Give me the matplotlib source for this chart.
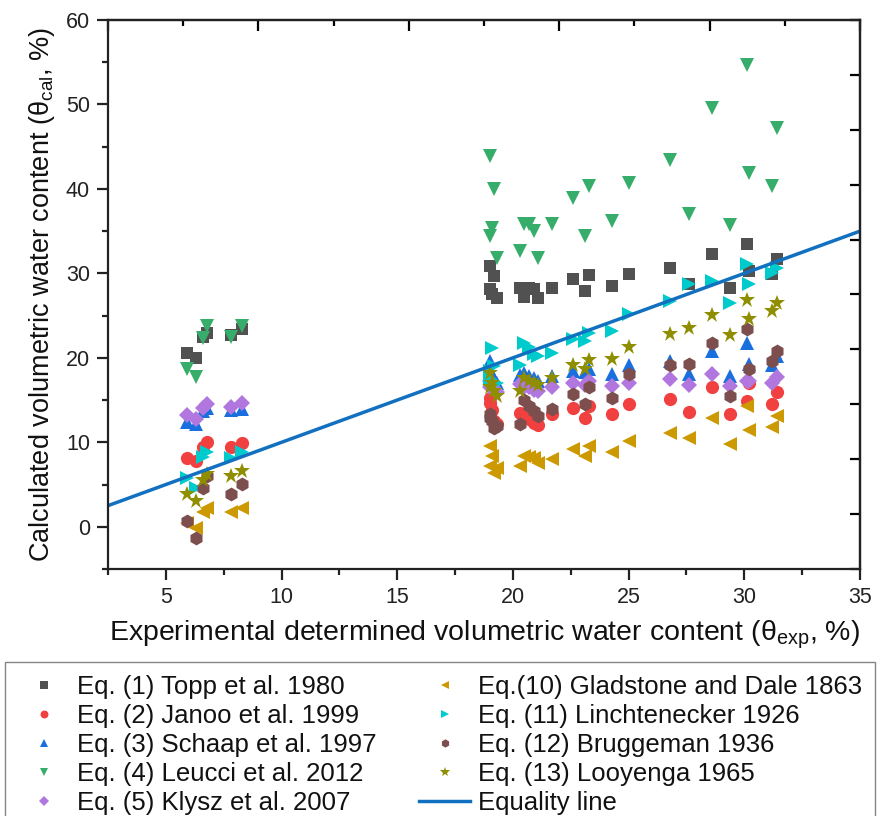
import matplotlib
matplotlib.use("Agg")
import matplotlib.pyplot as plt
import numpy as np

plt.rcParams['font.family'] = ['Liberation Sans', 'DejaVu Sans']
plt.rcParams['mathtext.default'] = 'regular'

# Experimental volumetric water content (%) for each sample
x_exp = [5.9, 6.3, 6.6, 6.8, 7.8, 8.3,
         19.0, 19.0, 19.1, 19.2, 19.3, 20.3, 20.5, 20.7, 20.9, 21.1, 21.7, 22.6, 23.1, 23.3, 24.3, 25.0,
         26.8, 27.6, 28.6, 29.4, 30.1, 30.2, 31.2, 31.4]

topp = [20.6, 20.0, 22.5, 23.0, 22.7, 23.4,
        30.9, 28.2, 27.6, 29.7, 27.1, 28.3, 27.2, 28.3, 28.2, 27.1, 28.3, 29.3, 27.9, 29.8, 28.5, 29.9,
        30.6, 28.7, 32.3, 28.3, 33.5, 30.3, 29.9, 31.7]
janoo = [8.2, 7.8, 9.5, 10.0, 9.5, 9.9,
         15.3, 14.6, 13.8, 12.5, 12.2, 13.5, 13.2, 12.8, 12.3, 12.0, 13.4, 14.1, 12.9, 14.3, 13.4, 14.5,
         15.1, 13.6, 16.6, 13.4, 14.9, 17.0, 14.5, 16.0]
schaap = [12.4, 12.2, 13.7, 14.1, 13.8, 14.0,
          19.6, 18.6, 18.0, 17.5, 17.0, 18.0, 18.2, 17.9, 17.6, 17.3, 17.9, 18.5, 18.3, 18.7, 18.1, 19.1,
          19.6, 18.1, 20.8, 17.9, 21.8, 19.3, 19.1, 20.2]
leucci = [18.7, 17.7, 22.3, 23.8, 22.5, 23.8,
          43.9, 34.4, 35.4, 40.0, 31.8, 32.7, 35.9, 35.8, 35.0, 31.8, 35.9, 38.9, 34.4, 40.4, 36.2, 40.7,
          43.4, 37.0, 49.6, 35.7, 54.7, 41.9, 40.4, 47.2]
klysz = [13.2, 12.8, 14.1, 14.5, 14.2, 14.6,
         17.3, 16.6, 16.8, 16.3, 15.9, 16.9, 16.6, 16.5, 16.2, 16.1, 16.5, 17.0, 16.8, 17.3, 16.7, 17.0,
         17.5, 16.8, 18.1, 16.7, 17.3, 17.3, 17.0, 17.7]
gladstone = [0.4, -0.1, 1.7, 2.2, 1.8, 2.2,
             9.6, 7.2, 8.4, 6.4, 7.0, 7.2, 8.4, 8.3, 8.2, 7.6, 8.0, 9.2, 8.4, 9.6, 8.8, 10.2,
             11.1, 10.5, 12.9, 9.8, 14.3, 11.5, 11.8, 13.1]
linch = [5.8, 4.6, 8.3, 8.8, 8.2, 8.8,
         18.5, 17.5, 21.2, 19.0, 17.0, 19.1, 21.8, 21.3, 20.5, 20.2, 20.6, 22.2, 22.0, 23.0, 23.2, 25.2,
         26.7, 28.7, 29.1, 26.5, 31.1, 28.8, 30.1, 30.6]
brugg = [0.7, -1.3, 4.6, 6.0, 3.9, 5.1,
         13.4, 12.9, 12.5, 11.7, 11.9, 12.2, 15.0, 14.3, 13.7, 13.1, 14.0, 15.7, 14.5, 16.5, 15.3, 18.1,
         19.1, 19.3, 21.7, 15.5, 23.4, 18.7, 19.6, 20.8]
looy = [3.9, 3.1, 5.5, 6.2, 6.0, 6.6,
        18.2, 16.5, 17.0, 16.1, 15.5, 16.1, 17.6, 17.3, 17.0, 16.8, 17.6, 19.1, 18.7, 19.8, 19.9, 21.3,
        22.8, 23.5, 25.1, 22.7, 26.9, 24.6, 25.6, 26.5]

equality_x = [2.5, 35.0]
equality_y = [2.5, 35.0]

x_ticks = [5, 10, 15, 20, 25, 30, 35]
y_ticks = [0, 10, 20, 30, 40, 50, 60]

series = [
    ("Eq. (1) Topp et al. 1980", topp, 's', '#515151', 9),
    ("Eq. (2) Janoo et al. 1999", janoo, 'o', '#F14040', 9.5),
    ("Eq. (3) Schaap et al. 1997", schaap, '^', '#1A6FDF', 10),
    ("Eq. (4) Leucci et al. 2012", leucci, 'v', '#37AD6B', 10),
    ("Eq. (5) Klysz et al. 2007", klysz, 'D', '#B177DE', 8),
    ("Eq.(10) Gladstone and Dale 1863", gladstone, '<', '#CC9900', 10),
    ("Eq. (11) Linchtenecker 1926", linch, '>', '#00CBCC', 10),
    ("Eq. (12) Bruggeman 1936", brugg, 'h', '#7D4E4E', 10),
    ("Eq. (13) Looyenga 1965", looy, '*', '#8E8E00', 12),
]

fig = plt.figure(figsize=(8.78, 8.16), dpi=100)
ax = fig.add_axes([0.123, 0.3027, 0.8565, 0.6728])

handles = []
for label, ys, mk, col, ms in series:
    h, = ax.plot(x_exp, ys, linestyle='none', marker=mk, color=col,
                 markersize=ms, markeredgewidth=0, label=label)
    handles.append(h)
hl, = ax.plot(equality_x, equality_y, color='#1270C0', linewidth=2.5, label="Equality line")
handles.append(hl)

xlim = (2.5, 35)
ylim = (-5, 60)
ax.set_xlim(*xlim)
ax.set_ylim(*ylim)
ax.set_xticks(x_ticks)
ax.set_xticks(np.arange(2.5, 35.1, 2.5), minor=True)
ax.set_yticks(y_ticks)
ax.set_yticks(np.arange(-5, 60.1, 5), minor=True)
for s in ax.spines.values():
    s.set_linewidth(1.6)
    s.set_color('#222222')
ax.tick_params(which='major', direction='out', length=8, width=1.6, pad=5,
               labelsize=15.5, colors='#222222')
ax.tick_params(which='minor', direction='out', length=4, width=1.6, colors='#222222')

# top and right axes (separate layer with its own evenly spaced ticks)
top = ax.secondary_xaxis('top')
tpos = np.linspace(xlim[0], xlim[1], 11)
top.set_xticks(tpos[::2])
top.set_xticks(tpos[1::2], minor=True)
top.tick_params(which='major', direction='in', length=8, width=1.6, labeltop=False)
top.tick_params(which='minor', direction='in', length=4, width=1.6)
top.set_xticklabels([])
right = ax.secondary_yaxis('right')
rpos = np.linspace(ylim[0], ylim[1], 11)
right.set_yticks(rpos)
right.tick_params(which='major', direction='in', length=7, width=1.6, labelright=False)
right.set_yticklabels([])
for sa in (top, right):
    for s in sa.spines.values():
        s.set_linewidth(1.6)
        s.set_color('#222222')

ax.set_xlabel("Experimental determined volumetric water content (θ$_{exp}$, %)",
              fontsize=20.5, labelpad=8, color='#111111')
ax.set_ylabel("Calculated volumetric water content (θ$_{cal}$, %)",
              fontsize=19.5, labelpad=6, color='#111111')

leg = fig.legend(handles=handles, loc='upper left', bbox_to_anchor=(5 / 878, 1 - 662 / 816),
                 borderaxespad=0, ncol=2, fontsize=18.5, frameon=True, fancybox=False,
                 edgecolor='#666666', markerscale=0.6, handlelength=2.0, handletextpad=0.3,
                 columnspacing=1.65, labelspacing=0.2, borderpad=0.5)
leg.get_frame().set_linewidth(1.0)
for t in leg.get_texts():
    t.set_color('#111111')

fig.savefig("out.png", dpi=100)
